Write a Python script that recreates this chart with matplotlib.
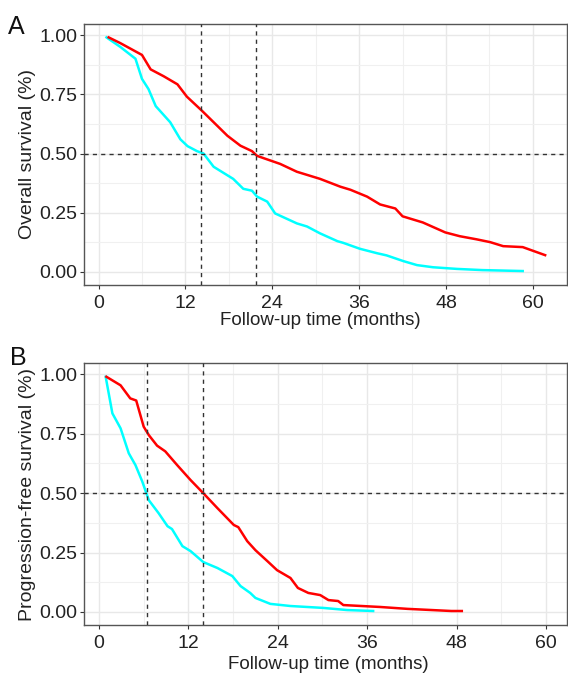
import numpy as np
import matplotlib.pyplot as plt
from matplotlib.ticker import MultipleLocator

plt.rcParams['font.family'] = ['Liberation Sans', 'DejaVu Sans']

# Panel A - overall survival
os_red_t = [1.4, 3.0, 6.0, 7.2, 9.0, 10.9, 12.2, 14.3, 15.9, 17.8, 19.6, 21.2, 21.9, 25.1,
            27.4, 30.6, 33.4, 34.8, 37.1, 38.9, 41.0, 42.0, 44.8, 47.9, 49.9, 52.2, 54.1,
            55.9, 58.6, 61.7]
os_red_s = [0.99, 0.966, 0.916, 0.855, 0.826, 0.792, 0.74, 0.68, 0.632, 0.575, 0.533, 0.51,
            0.49, 0.456, 0.423, 0.393, 0.36, 0.347, 0.318, 0.285, 0.268, 0.235, 0.209, 0.167,
            0.151, 0.138, 0.126, 0.109, 0.105, 0.071]
os_cyan_t = [1.1, 3.0, 5.1, 6.0, 6.9, 7.9, 9.9, 11.3, 12.3, 13.6, 14.5, 15.9, 18.6, 20.0,
             21.2, 21.9, 23.3, 24.4, 27.4, 28.8, 30.6, 33.0, 33.8, 36.1, 38.5, 39.8, 42.1,
             44.0, 46.2, 49.5, 53.0, 58.6]
os_cyan_s = [0.99, 0.95, 0.90, 0.815, 0.772, 0.70, 0.632, 0.56, 0.531, 0.51, 0.50, 0.444,
             0.393, 0.351, 0.343, 0.318, 0.297, 0.247, 0.205, 0.192, 0.163, 0.13, 0.123,
             0.098, 0.079, 0.07, 0.046, 0.029, 0.02, 0.013, 0.008, 0.004]
os_medians = [14.2, 21.7]

# Panel B - progression-free survival
pfs_red_t = [1.0, 2.9, 4.2, 5.0, 6.0, 6.7, 7.8, 8.9, 10.5, 12.3, 14.0, 15.9, 17.2, 18.1,
             18.7, 19.9, 21.0, 22.6, 23.9, 25.7, 26.7, 28.1, 29.7, 30.8, 32.1, 32.8, 37.7,
             41.4, 47.3, 48.7]
pfs_red_s = [0.99, 0.954, 0.899, 0.89, 0.78, 0.744, 0.70, 0.676, 0.618, 0.555, 0.50, 0.437,
             0.395, 0.366, 0.357, 0.298, 0.26, 0.214, 0.176, 0.143, 0.101, 0.08, 0.071, 0.05,
             0.046, 0.029, 0.021, 0.013, 0.004, 0.004]
pfs_cyan_t = [0.9, 1.8, 2.9, 4.0, 4.9, 5.8, 6.7, 8.0, 9.2, 9.8, 11.2, 12.3, 14.0, 15.9,
              17.9, 19.0, 20.3, 21.0, 23.0, 25.7, 30.1, 33.3, 36.8]
pfs_cyan_s = [0.99, 0.836, 0.773, 0.668, 0.618, 0.55, 0.47, 0.416, 0.361, 0.349, 0.277,
              0.256, 0.21, 0.185, 0.151, 0.109, 0.08, 0.059, 0.034, 0.025, 0.017, 0.008,
              0.004]
pfs_medians = [6.5, 14.0]

fig = plt.figure(figsize=(5.68, 6.73), dpi=100)
axA = fig.add_axes([0.148, 0.5765, 0.850, 0.388])
axB = fig.add_axes([0.148, 0.0713, 0.850, 0.389])


def style(ax, xmax, ylabel, xlab_x, xlab_y):
    ax.set_xlim(-2, xmax)
    ax.set_ylim(-0.055, 1.047)
    ax.xaxis.set_major_locator(MultipleLocator(12))
    ax.xaxis.set_minor_locator(MultipleLocator(6))
    ax.yaxis.set_minor_locator(MultipleLocator(0.125))
    ax.set_yticks([0, 0.25, 0.5, 0.75, 1.0])
    ax.set_yticklabels(['0.00', '0.25', '0.50', '0.75', '1.00'])
    ax.grid(which='major', color='#e8e8e8', lw=1.0)
    ax.grid(which='minor', color='#f0f0f0', lw=0.8)
    ax.set_axisbelow(True)
    for s in ax.spines.values():
        s.set_color('#555555')
        s.set_linewidth(1.0)
    ax.tick_params(which='major', length=3, color='#333333', labelsize=14,
                   labelcolor='#222222', pad=2)
    ax.tick_params(axis='x', which='major', pad=4)
    ax.tick_params(which='minor', length=0)
    ax.set_xlabel('Follow-up time (months)', fontsize=13.5, color='#222222')
    ax.xaxis.set_label_coords(xlab_x, xlab_y)
    ax.set_ylabel(ylabel, fontsize=14, color='#222222', labelpad=2)


def draw(ax, red_t, red_s, cyan_t, cyan_s, medians):
    ax.axhline(0.5, color='#333333', ls=(0, (3, 3)), lw=1.0, zorder=3)
    for m in medians:
        ax.axvline(m, color='#333333', ls=(0, (3, 3)), lw=1.0, zorder=3)
    ax.plot(cyan_t, cyan_s, color='#00ffff', lw=1.8, zorder=2)
    ax.plot(red_t, red_s, color='#ff0000', lw=1.8, zorder=2)


draw(axA, os_red_t, os_red_s, os_cyan_t, os_cyan_s, os_medians)
style(axA, 64.7, 'Overall survival (%)', 0.489, -0.105)
draw(axB, pfs_red_t, pfs_red_s, pfs_cyan_t, pfs_cyan_s, pfs_medians)
style(axB, 62.8, 'Progression-free survival (%)', 0.505, -0.118)

fig.text(0.014, 0.95, 'A', fontsize=18, color='#111111')
fig.text(0.017, 0.458, 'B', fontsize=18, color='#111111')

fig.savefig('out.png', dpi=100)
